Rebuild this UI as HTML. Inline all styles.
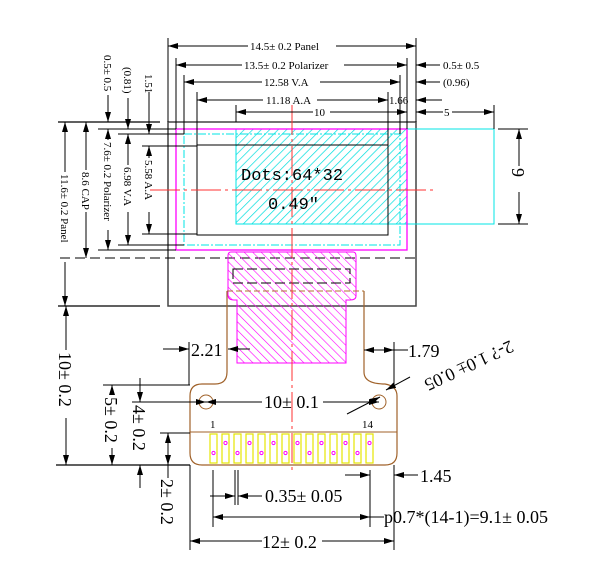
<!DOCTYPE html>
<html><head><meta charset="utf-8"><style>
html,body{margin:0;padding:0;background:#fff;width:600px;height:570px;overflow:hidden}
svg{display:block}
text{font-family:"Liberation Serif",serif;fill:#000}
</style></head><body>
<svg width="600" height="570" viewBox="0 0 600 570" xmlns="http://www.w3.org/2000/svg">
<defs>
<pattern id="hc" width="6" height="6" patternUnits="userSpaceOnUse" patternTransform="rotate(45)">
<line x1="0" y1="0" x2="0" y2="6" stroke="#00dede" stroke-width="1.4"/></pattern>
<pattern id="hm" width="6" height="6" patternUnits="userSpaceOnUse" patternTransform="rotate(-45)">
<line x1="0" y1="0" x2="0" y2="6" stroke="#ff00ff" stroke-width="1.2"/></pattern>
<marker id="a" viewBox="0 0 10 6" refX="10" refY="3" markerWidth="10" markerHeight="6" orient="auto-start-reverse" markerUnits="userSpaceOnUse"><path d="M0,0L10,3L0,6z" fill="#000"/></marker>
</defs>
<g fill="none" stroke="#000" stroke-width="1">
<rect x="168" y="122" width="248" height="184" stroke="#444" stroke-width="1.5"/>
<line x1="60" y1="258" x2="416" y2="258" stroke-dasharray="10,5"/>
</g>
<rect x="236" y="129" width="171" height="95" fill="url(#hc)" stroke="#00e5e5"/>
<rect x="407" y="129" width="87" height="95" fill="none" stroke="#00e5e5"/>
<rect x="176" y="129" width="231" height="121" fill="none" stroke="#ff00ff" stroke-width="1.3"/>
<rect x="184" y="134" width="216" height="111" fill="none" stroke="#00e5e5" stroke-dasharray="8,2,2,2"/>
<rect x="197" y="145" width="191" height="90" fill="none" stroke="#000"/>
<path d="M231,252H353Q356,252 356,256V296Q356,300 350,300H346V363H237V300H234Q228,300 228,295V256Q228,252 231,252Z" fill="url(#hm)" stroke="#ff00ff"/>
<rect x="233" y="269" width="117" height="14" fill="none" stroke="#000" stroke-dasharray="10,4"/>
<path d="M227,291H364" stroke="#b07030" stroke-dasharray="6,3" fill="none"/>
<path d="M227,291V372Q227,384 215,384H202Q190,384 190,396V453Q190,465 202,465H385Q397,465 397,453V396Q397,386 385,384Q364,384 364,372V291" fill="none" stroke="#a0622a" stroke-width="1.2"/>
<line x1="190" y1="432" x2="397" y2="432" stroke="#a0622a"/>
<circle cx="206" cy="402" r="7" fill="none" stroke="#a0622a"/>
<circle cx="379" cy="402" r="7" fill="none" stroke="#a0622a"/>
<g stroke="#e6e600" fill="none" stroke-width="1.2">
<rect x="210" y="434" width="7" height="29"/><rect x="222" y="434" width="7" height="29"/><rect x="234" y="434" width="7" height="29"/><rect x="246" y="434" width="7" height="29"/><rect x="258" y="434" width="7" height="29"/><rect x="270" y="434" width="7" height="29"/><rect x="282" y="434" width="7" height="29"/><rect x="294" y="434" width="7" height="29"/><rect x="306" y="434" width="7" height="29"/><rect x="318" y="434" width="7" height="29"/><rect x="330" y="434" width="7" height="29"/><rect x="342" y="434" width="7" height="29"/><rect x="354" y="434" width="7" height="29"/><rect x="366" y="434" width="7" height="29"/>
</g>
<g stroke="#ff00ff" fill="none"><circle cx="213.5" cy="453" r="1.6"/><circle cx="225.5" cy="443" r="1.6"/><circle cx="237.5" cy="453" r="1.6"/><circle cx="249.5" cy="443" r="1.6"/><circle cx="261.5" cy="453" r="1.6"/><circle cx="273.5" cy="443" r="1.6"/><circle cx="285.5" cy="453" r="1.6"/><circle cx="297.5" cy="443" r="1.6"/><circle cx="309.5" cy="453" r="1.6"/><circle cx="321.5" cy="443" r="1.6"/><circle cx="333.5" cy="453" r="1.6"/><circle cx="345.5" cy="443" r="1.6"/><circle cx="357.5" cy="453" r="1.6"/><circle cx="369.5" cy="443" r="1.6"/></g>
<line x1="292" y1="105" x2="292" y2="472" stroke="#ff3030" stroke-dasharray="30,4,3,4"/>
<line x1="150" y1="190" x2="437" y2="190" stroke="#ff3030" stroke-dasharray="30,4,3,4"/>
<text x="241" y="180" style="font-family:'Liberation Mono',monospace" font-size="17">Dots:64*32</text>
<text x="268" y="209" style="font-family:'Liberation Mono',monospace" font-size="17">0.49″</text>
<g stroke="#000" fill="none">
<line x1="168" y1="38" x2="168" y2="122"/><line x1="416" y1="38" x2="416" y2="122"/>
<line x1="176" y1="58" x2="176" y2="129"/><line x1="407" y1="58" x2="407" y2="129"/>
<line x1="184" y1="75" x2="184" y2="134"/><line x1="400" y1="75" x2="400" y2="134"/>
<line x1="197" y1="92" x2="197" y2="145"/><line x1="388" y1="92" x2="388" y2="145"/>
<line x1="236" y1="105" x2="236" y2="122"/><line x1="494" y1="105" x2="494" y2="129"/>
<line x1="168" y1="46" x2="248" y2="46" marker-start="url(#a)"/><line x1="336" y1="46" x2="416" y2="46" marker-end="url(#a)"/>
<line x1="176" y1="65" x2="242" y2="65" marker-start="url(#a)"/><line x1="344" y1="65" x2="407" y2="65" marker-end="url(#a)"/>
<line x1="440" y1="65" x2="416" y2="65" marker-end="url(#a)"/>
<line x1="184" y1="82" x2="262" y2="82" marker-start="url(#a)"/><line x1="320" y1="82" x2="400" y2="82" marker-end="url(#a)"/>
<line x1="440" y1="82" x2="416" y2="82" marker-end="url(#a)"/>
<line x1="197" y1="100" x2="263" y2="100" marker-start="url(#a)"/><line x1="317" y1="100" x2="388" y2="100" marker-end="url(#a)"/>
<line x1="442" y1="100" x2="416" y2="100" marker-end="url(#a)"/>
<line x1="236" y1="112" x2="313" y2="112" marker-start="url(#a)"/><line x1="330" y1="112" x2="407" y2="112" marker-end="url(#a)"/>
<line x1="416" y1="112" x2="443" y2="112" marker-start="url(#a)"/><line x1="452" y1="112" x2="494" y2="112" marker-end="url(#a)"/>
<line x1="498" y1="129" x2="528" y2="129"/><line x1="498" y1="224" x2="528" y2="224"/>
<line x1="519" y1="129" x2="519" y2="166" marker-start="url(#a)"/><line x1="519" y1="192" x2="519" y2="224" marker-end="url(#a)"/>
<line x1="58" y1="122" x2="160" y2="122" stroke-width="1.3"/><line x1="98" y1="129" x2="176" y2="129"/>
<line x1="118" y1="134" x2="184" y2="134"/><line x1="142" y1="146" x2="197" y2="146"/>
<line x1="142" y1="234" x2="197" y2="234"/><line x1="118" y1="245" x2="184" y2="245"/>
<line x1="98" y1="250" x2="176" y2="250"/>
<line x1="58" y1="306" x2="160" y2="306" stroke-width="1.3"/>
<line x1="65" y1="122" x2="65" y2="172" marker-start="url(#a)"/><line x1="65" y1="262" x2="65" y2="306" marker-end="url(#a)"/>
<line x1="86" y1="122" x2="86" y2="170" marker-start="url(#a)"/><line x1="86" y1="212" x2="86" y2="258" marker-end="url(#a)"/>
<line x1="108" y1="129" x2="108" y2="140" marker-start="url(#a)"/><line x1="108" y1="230" x2="108" y2="250" marker-end="url(#a)"/>
<line x1="108" y1="95" x2="108" y2="122" marker-end="url(#a)"/>
<line x1="128" y1="134" x2="128" y2="165" marker-start="url(#a)"/><line x1="128" y1="212" x2="128" y2="245" marker-end="url(#a)"/>
<line x1="128" y1="98" x2="128" y2="129" marker-end="url(#a)"/>
<line x1="149" y1="146" x2="149" y2="158" marker-start="url(#a)"/><line x1="149" y1="212" x2="149" y2="234" marker-end="url(#a)"/>
<line x1="149" y1="92" x2="149" y2="134" marker-end="url(#a)"/>
<line x1="56" y1="465" x2="190" y2="465" stroke-width="1.3"/>
<line x1="66" y1="306" x2="66" y2="350" marker-start="url(#a)"/><line x1="66" y1="418" x2="66" y2="465" marker-end="url(#a)"/>
<line x1="103" y1="385" x2="190" y2="385"/>
<line x1="112" y1="385" x2="112" y2="395" marker-start="url(#a)"/><line x1="112" y1="448" x2="112" y2="465" marker-end="url(#a)"/>
<line x1="132" y1="402" x2="206" y2="402" marker-end="url(#a)"/>
<line x1="140" y1="378" x2="140" y2="402" marker-end="url(#a)"/><line x1="140" y1="488" x2="140" y2="465" marker-end="url(#a)"/>
<line x1="160" y1="433" x2="190" y2="433"/>
<line x1="168" y1="433" x2="168" y2="465" marker-start="url(#a)" marker-end="url(#a)"/>
<line x1="168" y1="465" x2="168" y2="478"/>
<line x1="189" y1="342" x2="189" y2="385"/>
<line x1="163" y1="349" x2="189" y2="349" marker-end="url(#a)"/>
<line x1="250" y1="349" x2="228" y2="349" marker-end="url(#a)"/>
<line x1="394" y1="342" x2="394" y2="385"/>
<line x1="364" y1="350" x2="394" y2="350" marker-start="url(#a)" marker-end="url(#a)"/>
<line x1="394" y1="350" x2="408" y2="350"/>
<line x1="206" y1="402" x2="262" y2="402" marker-start="url(#a)"/>
<line x1="323" y1="402" x2="379" y2="402" marker-end="url(#a)"/>
<line x1="347" y1="414" x2="380" y2="397" marker-end="url(#a)"/>
<line x1="410" y1="377" x2="386" y2="390" marker-end="url(#a)"/>
<line x1="213" y1="470" x2="213" y2="527"/><line x1="235" y1="470" x2="235" y2="505"/><line x1="238" y1="470" x2="238" y2="505"/>
<line x1="370" y1="470" x2="370" y2="527"/><line x1="394" y1="465" x2="394" y2="550"/><line x1="190" y1="465" x2="190" y2="550"/>
<line x1="210" y1="496" x2="235" y2="496" marker-end="url(#a)"/><line x1="262" y1="496" x2="238" y2="496" marker-end="url(#a)"/>
<line x1="345" y1="475" x2="370" y2="475" marker-end="url(#a)"/><line x1="418" y1="475" x2="394" y2="475" marker-end="url(#a)"/>
<line x1="213" y1="517" x2="370" y2="517" marker-start="url(#a)" marker-end="url(#a)"/><line x1="370" y1="517" x2="384" y2="517"/>
<line x1="190" y1="541" x2="262" y2="541" marker-start="url(#a)"/><line x1="322" y1="541" x2="394" y2="541" marker-end="url(#a)"/>
</g>
<g font-size="11">
<text x="250" y="50">14.5± 0.2 Panel</text>
<text x="244" y="69">13.5± 0.2 Polarizer</text>
<text x="264" y="86">12.58 V.A</text>
<text x="266" y="104">11.18 A.A</text>
<text x="314" y="116">10</text>
<text x="444" y="116">5</text>
<text x="443" y="69">0.5± 0.5</text>
<text x="443" y="86">(0.96)</text>
<text x="389" y="104">1.66</text>
<text transform="translate(104,55) rotate(90)">0.5± 0.5</text>
<text transform="translate(124,67) rotate(90)">(0.81)</text>
<text transform="translate(145,74) rotate(90)">1.51</text>
<text transform="translate(61,174) rotate(90)">11.6± 0.2 Panel</text>
<text transform="translate(82,172) rotate(90)">8.6 CAP</text>
<text transform="translate(104,142) rotate(90)">7.6± 0.2 Polarizer</text>
<text transform="translate(124,167) rotate(90)">6.98 V.A</text>
<text transform="translate(145,160) rotate(90)">5.58 A.A</text>
<text x="210" y="428">1</text>
<text x="362" y="428">14</text>
</g>
<g font-size="18">
<text transform="translate(512,168) rotate(90)">9</text>
<text x="264" y="408">10± 0.1</text>
<text transform="translate(59,352) rotate(90)">10± 0.2</text>
<text transform="translate(105,397) rotate(90)">5± 0.2</text>
<text transform="translate(133,405) rotate(90)">4± 0.2</text>
<text transform="translate(161,479) rotate(90)">2± 0.2</text>
<text x="191" y="356">2.21</text>
<text x="408" y="357">1.79</text>
<text transform="translate(510,340) rotate(155)" font-size="18">2-? 1.0± 0.05</text>
<text x="420" y="482">1.45</text>
<text x="265" y="502">0.35± 0.05</text>
<text x="384" y="523">p0.7*(14-1)=9.1± 0.05</text>
<text x="262" y="548">12± 0.2</text>
</g>
</svg>
</body></html>
